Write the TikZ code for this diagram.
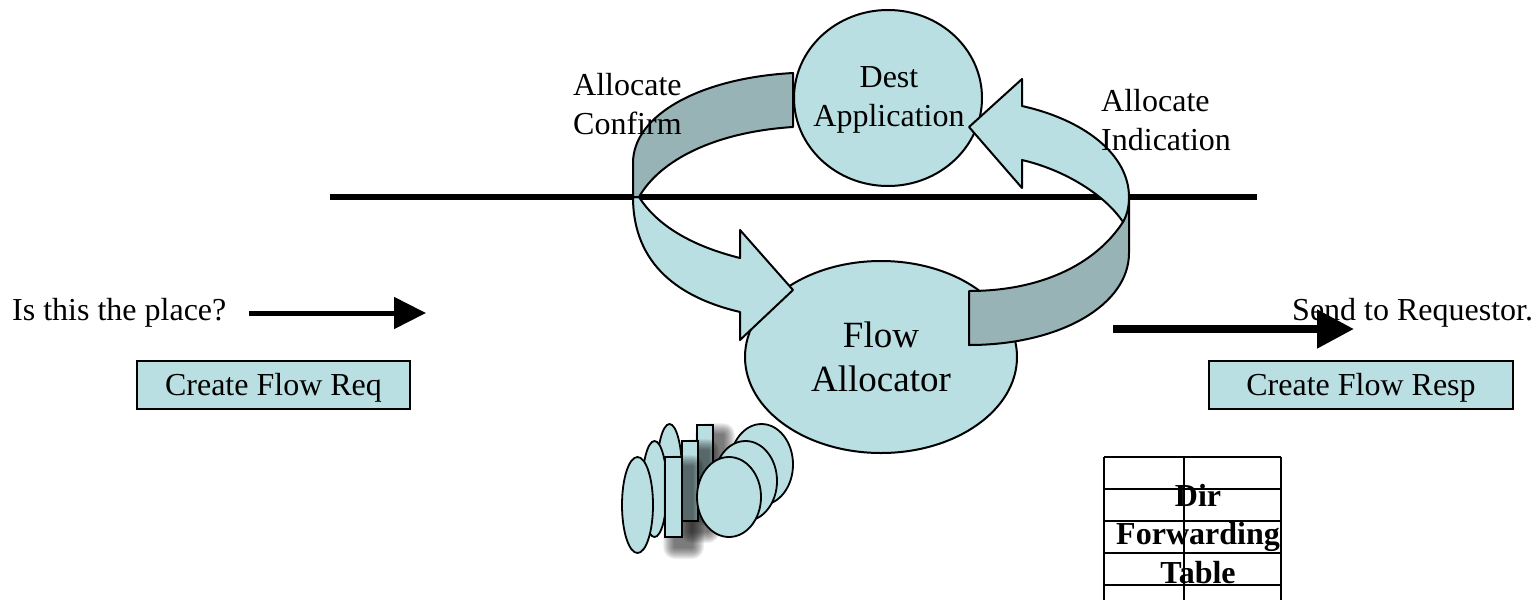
\documentclass[tikz,border=0pt]{standalone}
\usepackage{fontspec}
\setmainfont{Liberation Serif}
\usetikzlibrary{arrows.meta}
\definecolor{paleblue}{HTML}{B9DFE3}
\definecolor{darkband}{HTML}{98B3B6}
\tikzset{
	blob/.style = {draw, line width = 2pt, fill = paleblue},
	band/.style = {draw, line width = 2pt, line join = round},
	txt/.style = {font = \fontsize{32}{38.5}\selectfont, inner sep = 0pt, align = left},
	bigtxt/.style = {font = \fontsize{37}{44}\selectfont, inner sep = 0pt, align = center},
	tabletxt/.style = {font = \fontsize{32}{38.5}\selectfont\bfseries, inner sep = 0pt, align = center},
	reqbox/.style = {draw, line width = 1.4pt, fill = paleblue, minimum height = 48pt, inner sep = 0pt, text height = 28pt, text depth = 7pt, font = \fontsize{32}{38}\selectfont},
	part/.style = {draw, line width = 1.8pt, fill = paleblue},
	grid/.style = {line width = 1.6pt}
}
\begin{document}
\begin{tikzpicture}[x = 1pt, y = -1pt]
	\useasboundingbox (0,0) rectangle (1539,600);
	% layer boundary
	\coordinate (layerleft) at (330,197);
	\coordinate (layerright) at (1257,197);
	\draw[line width = 6pt] (layerleft) -- (layerright);
	% the two applications
	\path[blob] (881,357) ellipse (136 and 96);
	\path[blob] (888,98) ellipse (94 and 88);
	\node[bigtxt] (flow) at (881,357) {Flow\\Allocator};
	\node[txt, align = center] (dest) at (889,100) {Dest\\Application};
	% left loop
	\path[band, fill = paleblue] (633,197) .. controls (633,265) and (680,298) .. (740,312)
		-- (740,340) -- (793,290) -- (740,230) -- (740,258)
		.. controls (700,248) and (660,230) .. (639,197) -- cycle;
	\path[band, fill = darkband] (793,73) .. controls (700,78) and (633,115) .. (633,163)
		-- (633,197) -- (639,197) .. controls (660,160) and (715,132) .. (793,127) -- cycle;
	% right loop
	\path[band, fill = darkband] (1129,200) -- (1129,253) .. controls (1129,305) and (1060,345) .. (969,345)
		-- (969,291) .. controls (1040,291) and (1095,265) .. (1123,222) -- cycle;
	\path[band, fill = paleblue] (1129,197) .. controls (1129,155) and (1085,120) .. (1022,106)
		-- (1022,79) -- (969,127) -- (1022,188) -- (1022,160)
		.. controls (1065,170) and (1105,195) .. (1123,222) .. controls (1127,215) and (1129,207) .. (1129,197) -- cycle;
	% labels of the loops
	\node[txt, anchor = west] (confirm) at (573,104) {Allocate\\Confirm};
	\node[txt, anchor = west] (indication) at (1101,120) {Allocate\\Indication};
	% side arrows
	\node[txt, anchor = west] (place) at (12,313) {Is this the place?};
	\coordinate (placefrom) at (249,313);
	\coordinate (placeto) at (426,313);
	\draw[line width = 5pt, -{Triangle[length = 32pt, width = 31pt]}] (placefrom) -- (placeto);
	\coordinate (sendfrom) at (1113,329);
	\coordinate (sendto) at (1354,329);
	\draw[line width = 8pt, -{Triangle[length = 37pt, width = 37pt]}] (sendfrom) -- (sendto);
	\node[txt, anchor = west] (send) at (1292,313) {Send to Requestor.};
	\node[reqbox, minimum width = 273pt] (req) at (273.5,385) {Create Flow Req};
	\node[reqbox, minimum width = 304pt] (resp) at (1361,385) {Create Flow Resp};
	% pile under the allocator
	\path[part] (669.5,472) ellipse (12.5 and 48);
	\path[part] (654.5,489) ellipse (12.5 and 48);
	\path[part] (637.5,505) ellipse (15.5 and 48);
	\foreach \x/\y/\w/\h in {697/425/16/80, 682/441/16/80, 665/457/17/80} {
		\foreach \r in {12,11,...,1} {
			\fill[black, opacity = 0.06, rounded corners = \r pt] (\x+10-\r,\y+10-\r) rectangle (\x+\w+10+\r,\y+\h+10+\r);
		}
		\path[part] (\x,\y) rectangle (\x+\w,\y+\h);
	}
	\path[part] (761.5,464.5) ellipse (31.5 and 40.5);
	\path[part] (745.5,481) ellipse (31.5 and 40);
	\path[part] (729,497) ellipse (32 and 40);
	% table
	\foreach \y in {457,489,521,553,585} {
		\draw[grid] (1104,\y) -- (1281,\y);
	}
	\foreach \x in {1104,1184,1281} {
		\draw[grid] (\x,457) -- (\x,600);
	}
	\node[tabletxt] (table) at (1198,534) {Dir\\Forwarding\\Table};
\end{tikzpicture}
\end{document}
